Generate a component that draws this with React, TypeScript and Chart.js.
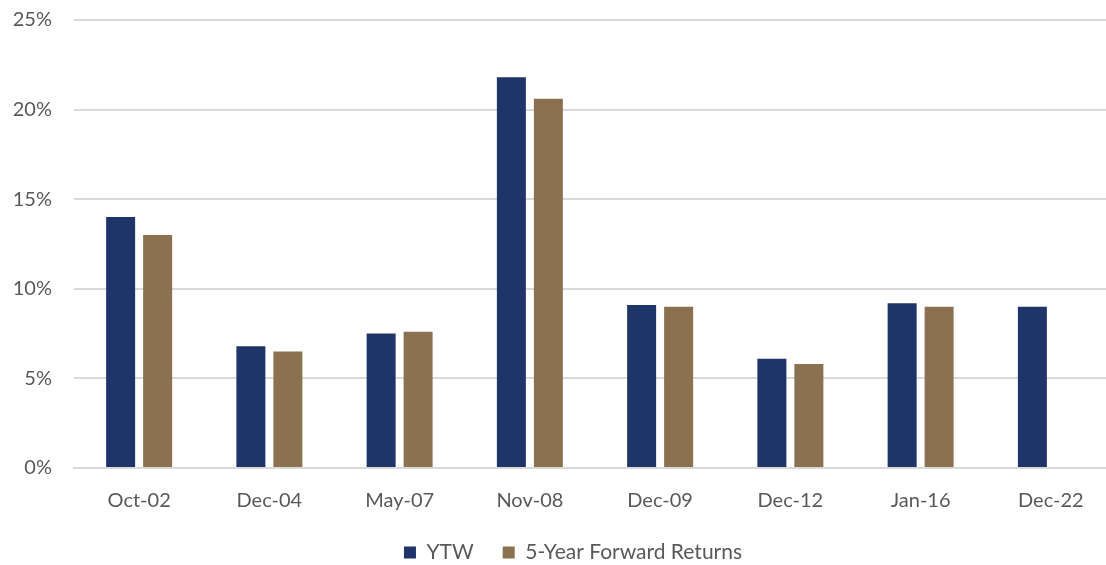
import React, { useEffect, useRef } from "react";
import { Chart, registerables } from "chart.js";

Chart.register(...registerables);

const categories = ["Oct-02", "Dec-04", "May-07", "Nov-08", "Dec-09", "Dec-12", "Jan-16", "Dec-22"];
const ytw = [14.0, 6.8, 7.5, 21.8, 9.1, 6.1, 9.2, 9.0];
const forwardReturns = [13.0, 6.5, 7.6, 20.6, 9.0, 5.8, 9.0, null];
const yTicks = [0, 5, 10, 15, 20, 25];

const FONT = "Lato, 'Open Sans', sans-serif";
const TEXT = "#595959";

const legendShift = {
  id: "legendShift",
  afterLayout(chart: any) {
    const lg = chart.legend;
    if (lg) {
      lg.left += 15;
      lg.right += 15;
    }
  },
};

export default function App() {
  const ref = useRef<HTMLCanvasElement | null>(null);

  useEffect(() => {
    document.body.style.margin = "0";
    const ctx = ref.current;
    if (!ctx) return;
    const chart = new Chart(ctx, {
      type: "bar",
      data: {
        labels: categories,
        datasets: [
          {
            label: "YTW",
            data: ytw,
            backgroundColor: "#1F3569",
            categoryPercentage: 0.568,
            barPercentage: 0.784,
          },
          {
            label: "5-Year Forward Returns",
            data: forwardReturns as any,
            backgroundColor: "#8B7150",
            categoryPercentage: 0.568,
            barPercentage: 0.784,
          },
        ],
      },
      plugins: [legendShift],
      options: {
        animation: false,
        responsive: false,
        maintainAspectRatio: false,
        layout: { padding: { top: 9, right: 30, left: 0, bottom: 0 } },
        plugins: {
          tooltip: { enabled: false },
          legend: {
            position: "bottom",
            labels: {
              font: { family: FONT, size: 21 },
              color: TEXT,
              boxWidth: 12,
              boxHeight: 12,
              padding: 29,
            },
          },
        },
        scales: {
          x: {
            afterFit: (s: any) => {
              s.height -= 21;
            },
            grid: { display: false, drawTicks: false },
            border: { display: true, color: "#d9d9d9", width: 2 },
            ticks: { font: { family: FONT, size: 20 }, color: TEXT, padding: 21 },
          },
          y: {
            min: 0,
            max: 25,
            afterFit: (s: any) => {
              s.width = 74;
            },
            afterBuildTicks: (s: any) => {
              s.ticks = yTicks.map((v) => ({ value: v }));
            },
            grid: { color: "#d9d9d9", lineWidth: 2, drawTicks: false },
            border: { display: false },
            ticks: {
              font: { family: FONT, size: 20 },
              color: TEXT,
              padding: 22,
              callback: (v: any) => `${v}%`,
            },
          },
        },
      },
    });
    return () => chart.destroy();
  }, []);

  return (
    <div style={{ width: 1106, height: 565, overflow: "hidden", position: "relative", background: "#fff" }}>
      <canvas ref={ref} width={1146} height={587} style={{ display: "block", marginTop: -14 }} />
    </div>
  );
}
